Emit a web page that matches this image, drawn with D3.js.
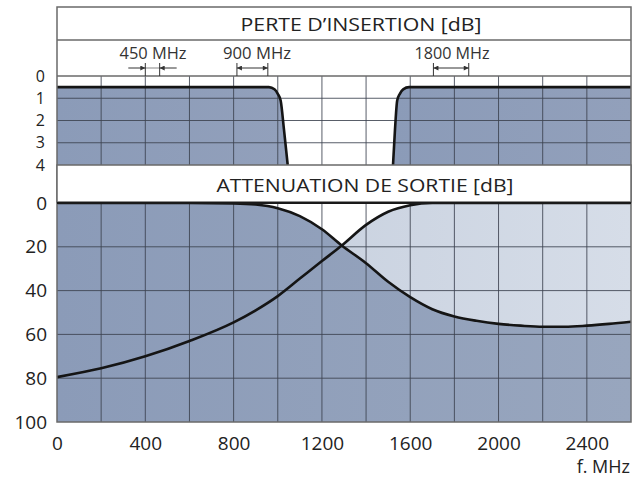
<!DOCTYPE html>
<html><head><meta charset="utf-8">
<script src="https://cdn.jsdelivr.net/npm/d3@7"></script>
<style>
html,body{margin:0;padding:0;background:#fff;}
svg{display:block;font-family:"Open Sans","Noto Sans",sans-serif;}
</style></head>
<body>
<svg id="chart" width="644" height="479"></svg>
<script>
// ---- data ----
const xTicks = [0, 400, 800, 1200, 1600, 2000, 2400];
const xGrid = [200, 400, 600, 800, 1000, 1200, 1400, 1600, 1800, 2000, 2200, 2400];
const insTicks = [0, 1, 2, 3, 4];
const attTicks = [0, 20, 40, 60, 80, 100];

// insertion loss (MHz, dB) – two pass bands
const insLowF  = [0, 200, 400, 600, 800, 960, 985, 1000, 1013, 1028, 1045];
const insLowDb = [0.5, 0.5, 0.5, 0.5, 0.5, 0.5, 0.6, 0.8, 1.1, 2.4, 4];
const insHighF  = [1522, 1531, 1541, 1553, 1568, 1595, 1800, 2000, 2200, 2400, 2600];
const insHighDb = [4, 2.4, 1.1, 0.8, 0.6, 0.5, 0.5, 0.5, 0.5, 0.5, 0.5];

// output attenuation (MHz, dB)
const attF   = [0, 200, 400, 600, 800, 900, 1000, 1100, 1200, 1290, 1400, 1500, 1600, 1700, 1800, 1900, 2000, 2100, 2200, 2300, 2400, 2500, 2600];
const attLow = [0, 0, 0, 0, 0.2, 0.7, 2.4, 6, 12, 19.4, 27.5, 36, 43, 48.5, 51.8, 53.8, 55.2, 56, 56.5, 56.5, 56, 55.2, 54.2];
const attHigh= [79.5, 75.5, 70, 63, 54.5, 49, 42.5, 34.5, 26.5, 19.4, 10, 4, 1, 0, 0, 0, 0, 0, 0, 0, 0, 0, 0];

// band markers
const bandLabels = ["450 MHz", "900 MHz", "1800 MHz"];
const bandFrom = [400, 815, 1705];
const bandTo   = [465, 955, 1865];
const bandStyle = ["outside", "inside", "inside"];

// ---- layout ----
const L = 57, R = 631;
const frameTop = 7, titleBottom = 40, insTop = 76, insBottom = 165, attTop = 203, attBottom = 422;

const svg = d3.select("#chart");
const defs = svg.append("defs");
function grad(id, c1, c2){
  const g = defs.append("linearGradient").attr("id", id).attr("x1","0").attr("x2","1").attr("y1","0").attr("y2","0");
  g.append("stop").attr("offset","0").attr("stop-color", c1);
  g.append("stop").attr("offset","1").attr("stop-color", c2);
}
grad("gDark", "rgb(139,155,184)", "rgb(152,166,190)");
grad("gLight", "rgb(192,202,218)", "rgb(214,221,232)");
grad("gTop", "rgb(139,155,184)", "rgb(146,160,187)");

const x = d3.scaleLinear().domain([0, 2600]).range([L, R]);
const yIns = d3.scaleLinear().domain([0, 4]).range([insTop, insBottom]);
const yAtt = d3.scaleLinear().domain([0, 100]).range([attTop, attBottom]);

const gridColor = "#3d4350";

// ---- top panel: insertion loss ----
const insLow = insLowF.map((f, i) => ({f, v: insLowDb[i]}));
const insHigh = insHighF.map((f, i) => ({f, v: insHighDb[i]}));
const areaIns = d3.area().x(d => x(d.f)).y0(yIns(4)).y1(d => yIns(d.v)).curve(d3.curveMonotoneX);
const lineIns = d3.line().x(d => x(d.f)).y(d => yIns(d.v)).curve(d3.curveMonotoneX);

svg.append("path").datum(insLow).attr("d", areaIns).attr("fill", "url(#gTop)");
svg.append("path").datum(insHigh).attr("d", areaIns).attr("fill", "url(#gTop)");

// grid top
const gTop = svg.append("g");
gTop.selectAll("line.v").data(xGrid).join("line")
  .attr("x1", d => x(d)).attr("x2", d => x(d)).attr("y1", insTop).attr("y2", insBottom)
  .attr("stroke", gridColor).attr("stroke-width", 1).attr("opacity", 0.85);
gTop.selectAll("line.h").data(insTicks.slice(1, -1)).join("line")
  .attr("x1", L).attr("x2", R).attr("y1", d => yIns(d)).attr("y2", d => yIns(d))
  .attr("stroke", gridColor).attr("stroke-width", 1).attr("opacity", 0.85);

svg.append("path").datum(insLow).attr("d", lineIns).attr("fill", "none").attr("stroke", "#151515").attr("stroke-width", 2.6);
svg.append("path").datum(insHigh).attr("d", lineIns).attr("fill", "none").attr("stroke", "#151515").attr("stroke-width", 2.6);

// ---- bottom panel: attenuation ----
const dLow = attF.map((f, i) => ({f, v: attLow[i]}));
const dHigh = attF.map((f, i) => ({f, v: attHigh[i]}));
const areaAtt = d3.area().x(d => x(d.f)).y0(yAtt(100)).y1(d => yAtt(d.v)).curve(d3.curveMonotoneX);
const lineAtt = d3.line().x(d => x(d.f)).y(d => yAtt(d.v)).curve(d3.curveMonotoneX);

svg.append("path").datum(dHigh).attr("d", areaAtt).attr("fill", "url(#gLight)");
svg.append("path").datum(dLow).attr("d", areaAtt).attr("fill", "url(#gDark)");

const gBot = svg.append("g");
gBot.selectAll("line.v").data(xGrid).join("line")
  .attr("x1", d => x(d)).attr("x2", d => x(d)).attr("y1", attTop).attr("y2", attBottom)
  .attr("stroke", gridColor).attr("stroke-width", 1).attr("opacity", 0.85);
gBot.selectAll("line.h").data(attTicks.slice(1, -1)).join("line")
  .attr("x1", L).attr("x2", R).attr("y1", d => yAtt(d)).attr("y2", d => yAtt(d))
  .attr("stroke", gridColor).attr("stroke-width", 1).attr("opacity", 0.85);

svg.append("path").datum(dLow).attr("d", lineAtt).attr("fill", "none").attr("stroke", "#151515").attr("stroke-width", 2.6);
svg.append("path").datum(dHigh).attr("d", lineAtt).attr("fill", "none").attr("stroke", "#151515").attr("stroke-width", 2.6);

// ---- frames & title boxes ----
const frameColor = "#6a6a6a";
svg.append("rect").attr("x", L).attr("y", frameTop).attr("width", R - L).attr("height", attBottom - frameTop)
  .attr("fill", "none").attr("stroke", frameColor).attr("stroke-width", 1.5);
svg.append("rect").attr("x", L).attr("y", insBottom).attr("width", R - L).attr("height", attTop - insBottom - 1)
  .attr("fill", "#fff").attr("stroke", frameColor).attr("stroke-width", 1.5);
[titleBottom, insTop].forEach(yy => svg.append("line").attr("x1", L).attr("x2", R).attr("y1", yy).attr("y2", yy)
  .attr("stroke", frameColor).attr("stroke-width", 1.5));
svg.append("line").attr("x1", L).attr("x2", R).attr("y1", attTop).attr("y2", attTop)
  .attr("stroke", "#1a1a1a").attr("stroke-width", 2);

svg.append("text").attr("x", 361).attr("y", 31).attr("text-anchor", "middle")
  .attr("font-size", 18).attr("fill", "#222").attr("textLength", 241).attr("lengthAdjust", "spacingAndGlyphs")
  .text("PERTE D\u2019INSERTION [dB]");
svg.append("text").attr("x", 365).attr("y", 192).attr("text-anchor", "middle")
  .attr("font-size", 19).attr("fill", "#222").attr("textLength", 297).attr("lengthAdjust", "spacingAndGlyphs")
  .text("ATTENUATION DE SORTIE [dB]");

// ---- band markers ----
const markColor = "#333";
const gB = svg.append("g");
defs.append("marker").attr("id", "arr").attr("viewBox", "0 0 10 10").attr("refX", 10).attr("refY", 5)
  .attr("markerWidth", 7).attr("markerHeight", 5).attr("orient", "auto-start-reverse").attr("markerUnits", "userSpaceOnUse")
  .append("path").attr("d", "M0,0 L10,5 L0,10 z").attr("fill", markColor);
const labelCenters = [153, 257, 452];
const labelWidths = [67, 68, 75];
bandLabels.forEach((lab, i) => {
  const x1 = x(bandFrom[i]), x2 = x(bandTo[i]);
  gB.append("text").attr("x", labelCenters[i]).attr("y", 59).attr("text-anchor", "middle")
    .attr("font-size", 16).attr("fill", "#333")
    .attr("textLength", labelWidths[i]).attr("lengthAdjust", "spacingAndGlyphs").text(lab);
  [x1, x2].forEach(xx => gB.append("line").attr("x1", xx).attr("x2", xx).attr("y1", 63).attr("y2", insTop)
    .attr("stroke", markColor).attr("stroke-width", 1));
  if (bandStyle[i] === "outside") {
    gB.append("line").attr("x1", x1 - 17).attr("x2", x1).attr("y1", 68).attr("y2", 68)
      .attr("stroke", markColor).attr("stroke-width", 1).attr("marker-end", "url(#arr)");
    gB.append("line").attr("x1", x2 + 17).attr("x2", x2).attr("y1", 68).attr("y2", 68)
      .attr("stroke", markColor).attr("stroke-width", 1).attr("marker-end", "url(#arr)");
    gB.append("line").attr("x1", x1).attr("x2", x2).attr("y1", 68).attr("y2", 68)
      .attr("stroke", markColor).attr("stroke-width", 0.6);
  } else {
    gB.append("line").attr("x1", x1).attr("x2", x2).attr("y1", 68).attr("y2", 68)
      .attr("stroke", markColor).attr("stroke-width", 1)
      .attr("marker-start", "url(#arr)").attr("marker-end", "url(#arr)");
  }
});

// ---- axes labels ----
const ff = "'Open Sans','Noto Sans',sans-serif";
const xAxis = d3.axisBottom(x).tickValues(xTicks).tickSize(0).tickPadding(0).tickFormat(d3.format("d"));
const gx = svg.append("g").attr("transform", `translate(0,${attBottom})`).call(xAxis);
gx.select(".domain").remove();
gx.selectAll("text").attr("font-size", 19).attr("fill", "#222").attr("dy", null).attr("y", 28)
  .attr("font-family", ff);

const yAxisA = d3.axisLeft(yAtt).tickValues(attTicks).tickSize(0).tickPadding(0).tickFormat(d3.format("d"));
const gya = svg.append("g").attr("transform", `translate(47,0)`).call(yAxisA);
gya.select(".domain").remove();
gya.selectAll("text").attr("font-size", 19).attr("fill", "#222").attr("x", 0)
  .attr("font-family", ff);

const yAxisI = d3.axisLeft(yIns).tickValues(insTicks).tickSize(0).tickPadding(0).tickFormat(d3.format("d"));
const gyi = svg.append("g").attr("transform", `translate(45,0)`).call(yAxisI);
gyi.select(".domain").remove();
gyi.selectAll("text").attr("font-size", 16).attr("fill", "#222").attr("x", 0)
  .attr("font-family", ff);

svg.append("text").attr("x", 630).attr("y", 473).attr("text-anchor", "end")
  .attr("font-size", 18).attr("fill", "#222").text("f. MHz");
</script>
</body></html>
